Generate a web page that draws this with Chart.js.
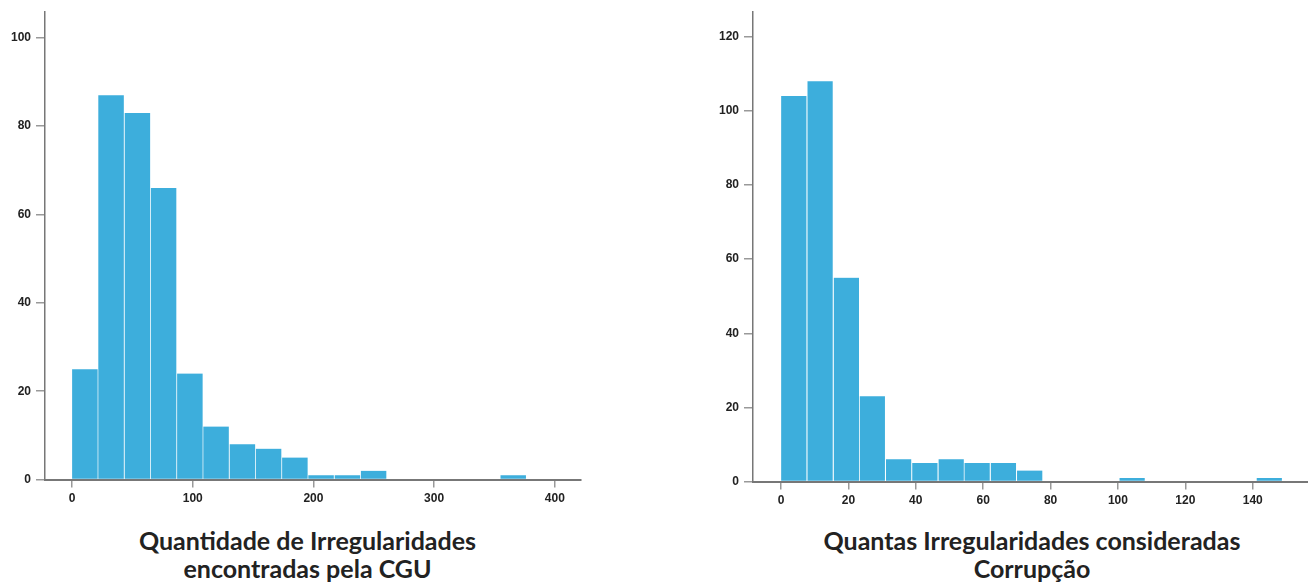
<!DOCTYPE html>
<html>
<head>
<meta charset="utf-8">
<script src="https://cdn.jsdelivr.net/npm/chart.js@4/dist/chart.umd.min.js"></script>
<style>
  body { margin: 0; background: #fff; }
  #wrap { position: relative; width: 1308px; height: 583px; overflow: hidden; }
  .box { position: absolute; top: 0; height: 520px; }
  .title {
    position: absolute; top: 526px; text-align: center;
    font-family: Lato, "Noto Sans", sans-serif; font-weight: bold;
    font-size: 25px; line-height: 28px; color: #222;
  }
</style>
</head>
<body>
<div id="wrap">
  <div class="box" style="left:0;width:654px"><canvas id="leftChart"></canvas></div>
  <div class="box" style="left:654px;width:654px"><canvas id="rightChart"></canvas></div>
  <div class="title" style="left:0;width:615px">Quantidade de Irregularidades<br>encontradas pela CGU</div>
  <div class="title" style="left:732px;width:600px">Quantas Irregularidades consideradas<br>Corrupção</div>
</div>

<script>
// Histogram 1: irregularidades encontradas (bin centres / counts)
const leftBins = [10.9, 32.6, 54.4, 76.1, 97.9, 119.6, 141.4, 163.1, 184.9, 206.6, 228.4, 250.1, 365.8];
const leftCounts = [25, 87, 83, 66, 24, 12, 8, 7, 5, 1, 1, 2, 1];
const leftXTicks = [0, 100, 200, 300, 400];
const leftYTicks = [0, 20, 40, 60, 80, 100];

// Histogram 2: irregularidades consideradas corrupção
const rightBins = [3.9, 11.7, 19.5, 27.2, 35.0, 42.8, 50.6, 58.3, 66.1, 73.9, 104.3, 145.0];
const rightCounts = [104, 108, 55, 23, 6, 5, 6, 5, 5, 3, 1, 1];
const rightXTicks = [0, 20, 40, 60, 80, 100, 120, 140];
const rightYTicks = [0, 20, 40, 60, 80, 100, 120];

const BAR = '#3daedc';
const tickFont = { family: '"Liberation Sans", Arial, sans-serif', weight: 'bold', size: 12 };

function makeHist(id, bins, counts, xTicks, yTicks, xr, yMax, padding) {
    const data = bins.map((b, i) => ({ x: b, y: counts[i] }));

    return new Chart(document.getElementById(id), {
        type: 'bar',
        data: {
            datasets: [{
                data,
                backgroundColor: BAR,
                borderColor: '#fff',
                borderWidth: { left: 0, right: 1, top: 0, bottom: 0 },
                borderSkipped: false,
                barPercentage: 1,
                categoryPercentage: 1
            }]
        },
        options: {
            responsive: true,
            maintainAspectRatio: false,
            animation: false,
            layout: { padding },
            plugins: { legend: { display: false }, tooltip: { enabled: false } },
            scales: {
                x: {
                    type: 'linear',
                    min: xr[0],
                    max: xr[1],
                    offset: false,
                    afterBuildTicks: s => { s.ticks = xTicks.map(v => ({ value: v })); },
                    grid: { display: true, drawOnChartArea: false, offset: false, tickLength: 8, color: '#999', lineWidth: 1.5 },
                    border: { display: true, color: '#777', width: 2 },
                    ticks: { font: tickFont, color: '#222', padding: 4, maxRotation: 0 }
                },
                y: {
                    min: 0,
                    max: yMax,
                    afterBuildTicks: s => { s.ticks = yTicks.map(v => ({ value: v })); },
                    grid: { display: true, drawOnChartArea: false, tickLength: 9, color: '#999', lineWidth: 1.5 },
                    border: { display: true, color: '#777', width: 1.5 },
                    ticks: { font: tickFont, color: '#222', padding: 5 }
                }
            }
        }
    });
}

makeHist('leftChart', leftBins, leftCounts, leftXTicks, leftYTicks,
    [-22.4, 421.7], 105.8, { left: 6, right: 73, top: 12, bottom: 10 });
makeHist('rightChart', rightBins, rightCounts, rightXTicks, rightYTicks,
    [-8.3, 156.4], 126.6, { left: 60, right: 0, top: 12, bottom: 8 });
</script>
</body>
</html>
